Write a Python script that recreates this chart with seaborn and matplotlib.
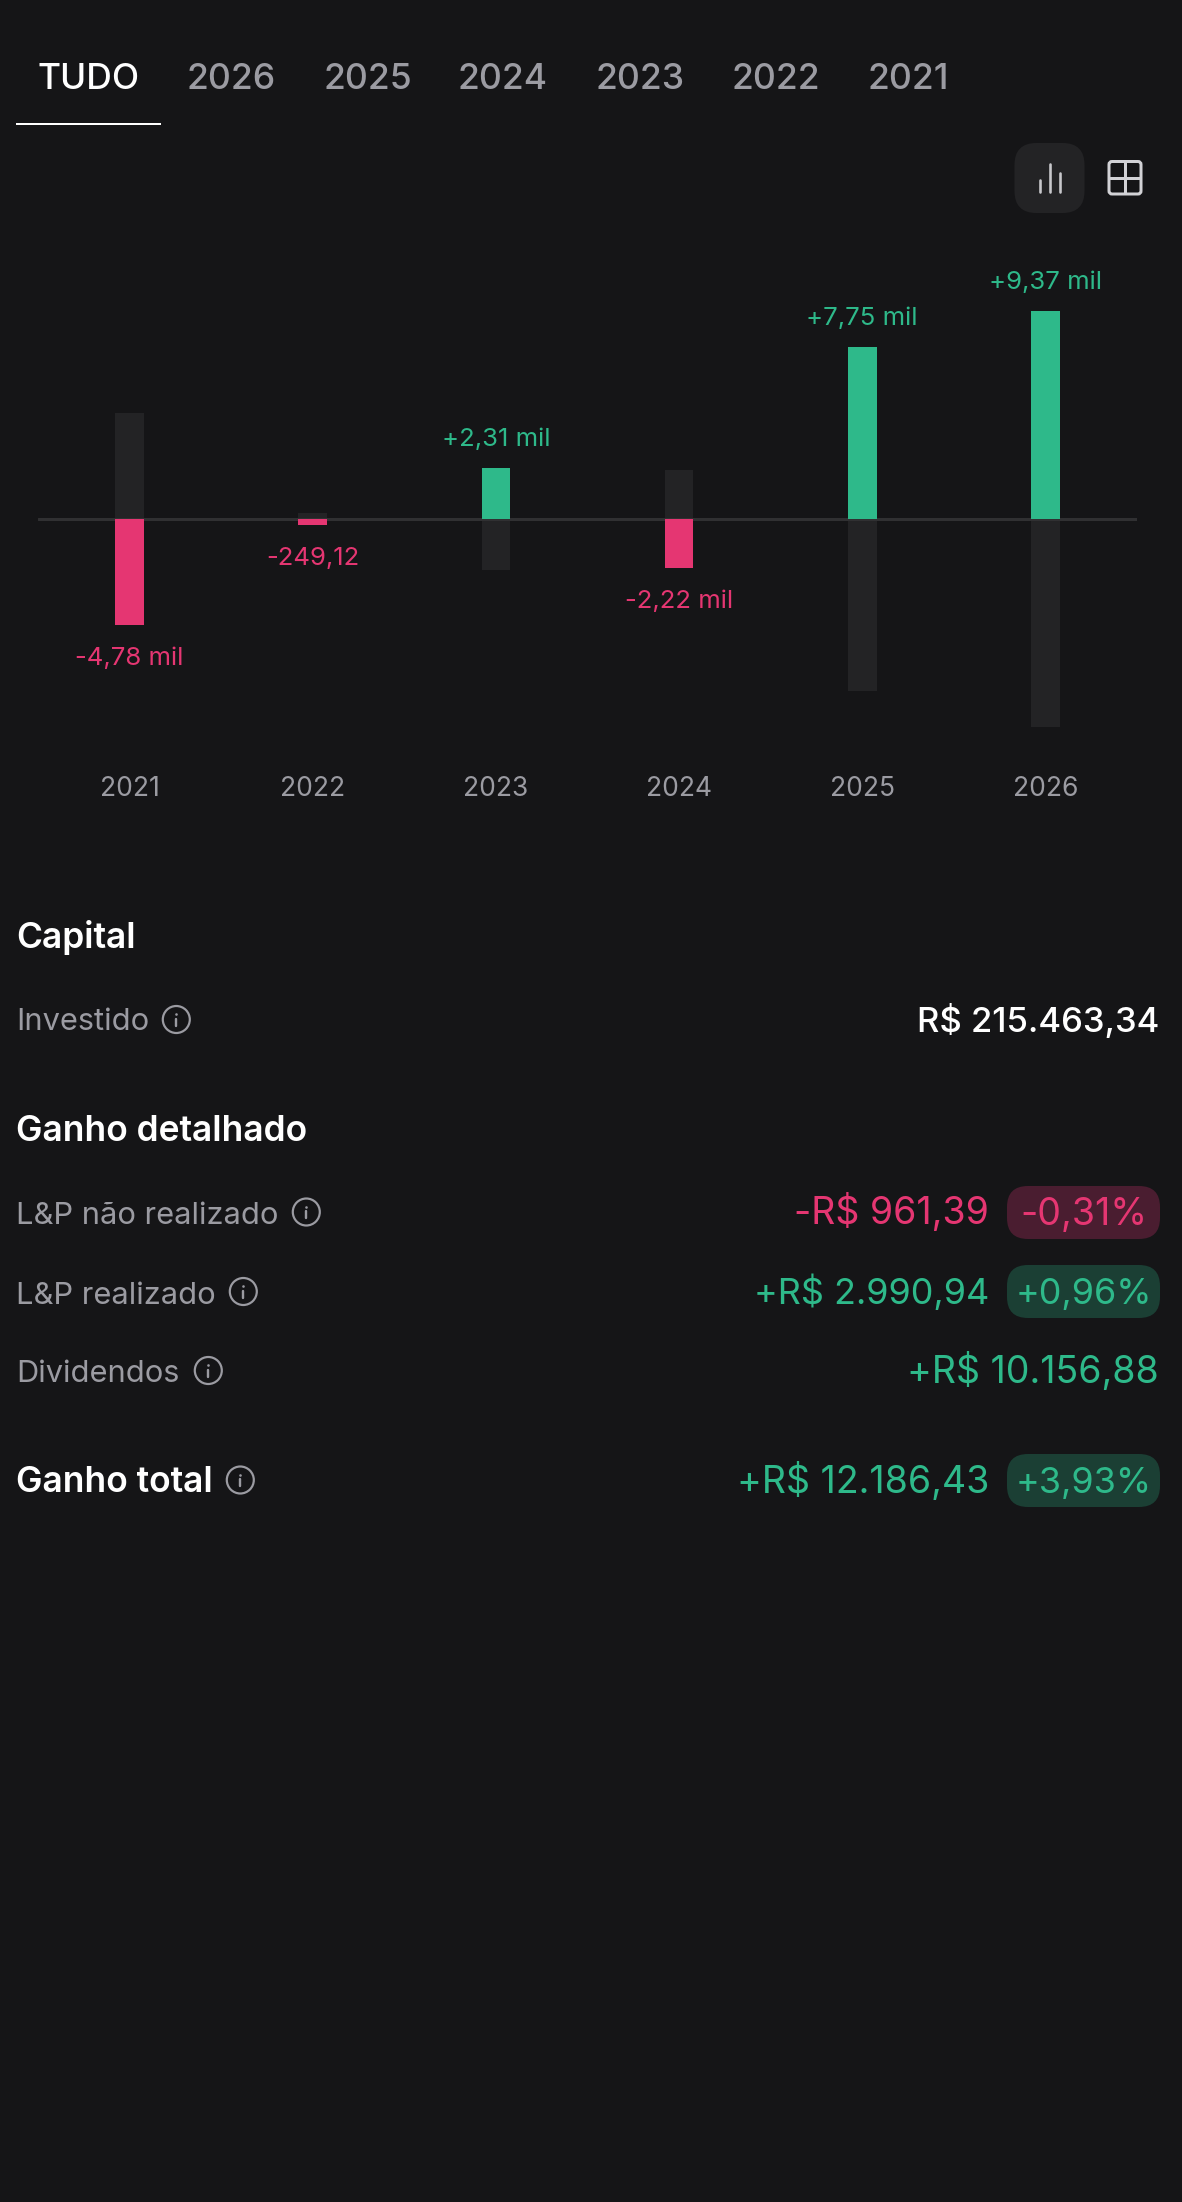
import matplotlib
matplotlib.use("Agg")
import matplotlib.pyplot as plt
from matplotlib.patches import Circle, FancyBboxPatch, Rectangle
import pandas as pd
import seaborn as sns

# chart data, yearly result in R$
years = ["2021", "2022", "2023", "2024", "2025", "2026"]
results = [-4780, -249.12, 2310, -2220, 7750, 9370]
result_labels = ["-4,78 mil", "-249,12", "+2,31 mil", "-2,22 mil", "+7,75 mil", "+9,37 mil"]

tabs = ["TUDO", "2026", "2025", "2024", "2023", "2022", "2021"]

detail_labels = ["L&P não realizado", "L&P realizado", "Dividendos"]
detail_values = ["-R$ 961,39", "+R$ 2.990,94", "+R$ 10.156,88"]
detail_pills = ["-0,31%", "+0,96%", None]

BG = "#151517"
PINK = "#E53672"
GREEN = "#2EB98A"
GHOST = "#232325"
GREY = "#9B9BA2"
PILL_PINK = "#4A1D30"
PILL_GREEN = "#1B3F34"

W, H = 1182, 2202
PT = 0.72  # one pixel in points at dpi 100

sns.set_theme(style="dark")
plt.rcParams["font.family"] = ["Inter", "DejaVu Sans"]

fig = plt.figure(figsize=(W / 100, H / 100), dpi=100, facecolor=BG)

# -- chart
ax = fig.add_axes([38 / W, 1 - 760 / H, 1099 / W, 500 / H])
ax.set_facecolor("none")

df = pd.DataFrame({"year": years, "result": results, "label": result_labels})
df["ghost"] = -df["result"]
df["side"] = ["up" if v > 0 else "down" for v in results]

ax.axhline(0, color="#303032", lw=3 * PT, zorder=1)
sns.barplot(data=df, x="year", y="ghost", color=GHOST, saturation=1, width=0.156,
            ax=ax, zorder=0, linewidth=0)
sns.barplot(data=df, x="year", y="result", hue="side", palette={"up": GREEN, "down": PINK},
            saturation=1, width=0.156, dodge=False, legend=False, ax=ax, zorder=2, linewidth=0)

ax.set_xlim(-0.5, 5.5)
ax.set_ylim(-241 / 22.2 * 1000, 259 / 22.2 * 1000)
ax.set_xlabel("")
ax.set_ylabel("")
ax.set_yticks([])
ax.tick_params(axis="x", length=0, pad=16 * PT, labelsize=26.5 * PT, labelcolor=GREY)
ax.grid(False)
for spine in ax.spines.values():
    spine.set_visible(False)

for i, row in df.iterrows():
    up = row["result"] > 0
    ax.annotate(row["label"], (i, row["result"]), xytext=(0, (22 if up else -40) * PT),
                textcoords="offset points", ha="center", va="baseline",
                color=GREEN if up else PINK, fontsize=25.7 * PT)

# -- everything around the chart, drawn in pixel coordinates
ui = fig.add_axes([0, 0, 1, 1], zorder=-1)
ui.set_xlim(0, W)
ui.set_ylim(H, 0)
ui.axis("off")
ax.set_zorder(1)


def pill(x0, y0, x1, y1, r, color, **kw):
    ui.add_patch(FancyBboxPatch((x0 + r, y0 + r), x1 - x0 - 2 * r, y1 - y0 - 2 * r,
                                boxstyle="round,pad=%f,rounding_size=%f" % (r, r),
                                facecolor=color, edgecolor="none", linewidth=0, **kw))


def info_icon(x, y):
    ui.add_patch(Circle((x, y), 13.5, fill=False, edgecolor=GREY, lw=2.2 * PT))
    ui.plot([x, x], [y - 1, y + 6], color=GREY, lw=2.4 * PT, solid_capstyle="round")
    ui.plot([x], [y - 5.5], "o", color=GREY, ms=2.6 * PT, mew=0)


# tabs
tab_centers = [88.5, 231.5, 367.5, 503, 640, 775.5, 908.5]
for i, (tab, xc) in enumerate(zip(tabs, tab_centers)):
    ui.text(xc, 89, tab, ha="center", va="baseline", fontsize=35.5 * PT, fontweight="medium",
            color="white" if i == 0 else GREY)
ui.add_patch(Rectangle((16, 123.2), 145.3, 2, facecolor="white", edgecolor="none"))

# view toggle icons
pill(1014.5, 143, 1084.5, 213, 22, GHOST)
for xb, ytop in zip([1039.5, 1049.5, 1059.5], [180, 163.5, 172.5]):
    ui.plot([xb, xb], [ytop, 192], color="#C8C8CC", lw=2.6 * PT, solid_capstyle="round")
ui.add_patch(FancyBboxPatch((1112, 164.5), 26, 26.5, boxstyle="round,pad=3,rounding_size=3",
                            fill=False, edgecolor="#D2D2D6", lw=3 * PT))
ui.plot([1125, 1125], [162, 193], color="#D2D2D6", lw=3 * PT)
ui.plot([1110, 1140], [177.5, 177.5], color="#D2D2D6", lw=3 * PT)

# capital block
ui.text(16, 948, "Capital", ha="left", va="baseline", fontsize=35.4 * PT, fontweight="semibold", color="white")
ui.text(16.5, 1030.5, "Investido", ha="left", va="baseline", fontsize=30.8 * PT, color=GREY)
info_icon(176.3, 1019.5)
ui.text(1159, 1032, "R$ 215.463,34", ha="right", va="baseline", fontsize=34.7 * PT, fontweight="medium", color="white")

# ganho detalhado block
ui.text(16, 1141, "Ganho detalhado", ha="left", va="baseline", fontsize=35.4 * PT, fontweight="semibold", color="white")

row_baselines = [1224, 1303.5, 1382.5]
row_icons = [306.3, 243.3, 208.3]
pill_boxes = [(1186, 1239), (1265, 1318), None]
value_sizes = [37.5, 36, 37.5]
pill_sizes = [37.5, 36, None]
for label, value, pct, yb, xi, box, vs, ps in zip(detail_labels, detail_values, detail_pills,
                                                  row_baselines, row_icons, pill_boxes,
                                                  value_sizes, pill_sizes):
    color = PINK if value.startswith("-") else GREEN
    ui.text(16.5, yb, label, ha="left", va="baseline", fontsize=30.8 * PT, color=GREY)
    info_icon(xi, yb - 12)
    if pct is None:
        ui.text(1159, yb, value, ha="right", va="baseline", fontsize=vs * PT, color=color)
        continue
    ui.text(989, yb, value, ha="right", va="baseline", fontsize=vs * PT, color=color)
    pill(1007, box[0], 1160, box[1], 21, PILL_PINK if color == PINK else PILL_GREEN)
    ui.text(1084, yb + 0.5, pct, ha="center", va="baseline", fontsize=ps * PT, color=color)

# ganho total
ui.text(16, 1492, "Ganho total", ha="left", va="baseline", fontsize=35.4 * PT, fontweight="semibold", color="white")
info_icon(240.3, 1480)
ui.text(989, 1493, "+R$ 12.186,43", ha="right", va="baseline", fontsize=37.5 * PT, color=GREEN)
pill(1007, 1454, 1160, 1507, 21, PILL_GREEN)
ui.text(1084, 1493, "+3,93%", ha="center", va="baseline", fontsize=36 * PT, color=GREEN)

fig.savefig("out.png", dpi=100, facecolor=BG)
